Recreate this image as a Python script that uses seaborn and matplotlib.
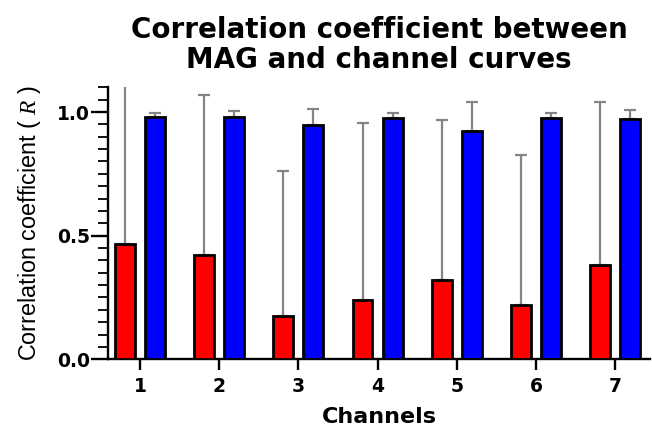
import numpy as np
import pandas as pd
import matplotlib
matplotlib.use("Agg")
import matplotlib.pyplot as plt
from matplotlib.ticker import MultipleLocator
import seaborn as sns

# ---- data ----
channels = ["1", "2", "3", "4", "5", "6", "7"]
groups = ["Group A", "Group B"]
red_mean = [0.467, 0.420, 0.176, 0.241, 0.320, 0.221, 0.383]
red_sd = [0.680, 0.647, 0.585, 0.714, 0.649, 0.605, 0.657]
blue_mean = [0.980, 0.980, 0.948, 0.974, 0.925, 0.975, 0.973]
blue_sd = [0.018, 0.024, 0.063, 0.023, 0.115, 0.022, 0.037]
colors = ["#ff0000", "#0000ff"]
title = "Correlation coefficient between\nMAG and channel curves"
xlabel = "Channels"
ylabel = "Correlation coefficient ( $R$ )"
yticks = [0.0, 0.5, 1.0]

df = pd.DataFrame({
    "channel": channels * 2,
    "group": [groups[0]] * len(channels) + [groups[1]] * len(channels),
    "value": red_mean + blue_mean,
})

sns.set_style("ticks")
plt.rcParams["font.family"] = ["DejaVu Sans"]
plt.rcParams["text.color"] = "black"
plt.rcParams["axes.labelcolor"] = "black"
plt.rcParams["mathtext.fontset"] = "custom"
plt.rcParams["mathtext.it"] = "Liberation Serif:italic"
plt.rcParams["mathtext.rm"] = "Liberation Sans"

fig = plt.figure(figsize=(6.52, 4.28), dpi=100)
ax = fig.add_axes([108 / 652, (428 - 359.3) / 428, (650 - 108) / 652, (359.3 - 87.3) / 428])

sns.barplot(data=df, x="channel", y="value", hue="group", palette=colors,
            saturation=1, width=0.76, gap=0.34, errorbar=None,
            edgecolor="black", linewidth=2.0, legend=False, ax=ax, zorder=3)

# error bars (upper only) from the library's bar positions
for cont, sds in zip(ax.containers, [red_sd, blue_sd]):
    xs = [p.get_x() + p.get_width() / 2 for p in cont.patches]
    hs = [p.get_height() for p in cont.patches]
    ax.errorbar(xs, hs, yerr=[np.zeros(len(sds)), sds], fmt="none",
                ecolor="#858585", elinewidth=1.6, capsize=4, capthick=1.6,
                zorder=2)

ax.set_xlim(-0.404, 6.44)
ax.set_ylim(0, 1.1)
ax.set_yticks(yticks)
ax.set_yticklabels([f"{v:.1f}" for v in yticks])
ax.yaxis.set_minor_locator(MultipleLocator(0.05))

sns.despine(ax=ax)
for s in ["left", "bottom"]:
    ax.spines[s].set_linewidth(1.7)
    ax.spines[s].set_color("black")

ax.tick_params(axis="y", which="major", length=12, width=1.7, pad=1,
               labelsize=13.5, colors="black")
ax.tick_params(axis="y", which="minor", length=7, width=1.3, colors="black")
ax.tick_params(axis="x", which="major", length=8, width=1.7, pad=5,
               labelsize=13.5, colors="black")
for lab in ax.get_xticklabels() + ax.get_yticklabels():
    lab.set_fontweight("bold")

ax.set_xlabel(xlabel, fontsize=16, fontweight="bold", labelpad=7.5)
ax.set_ylabel(ylabel, fontsize=16.8, family="Liberation Sans", labelpad=10)
ax.set_title(title, fontsize=20, fontweight="bold", pad=14, linespacing=1.08)

fig.savefig("out.png", dpi=100)
